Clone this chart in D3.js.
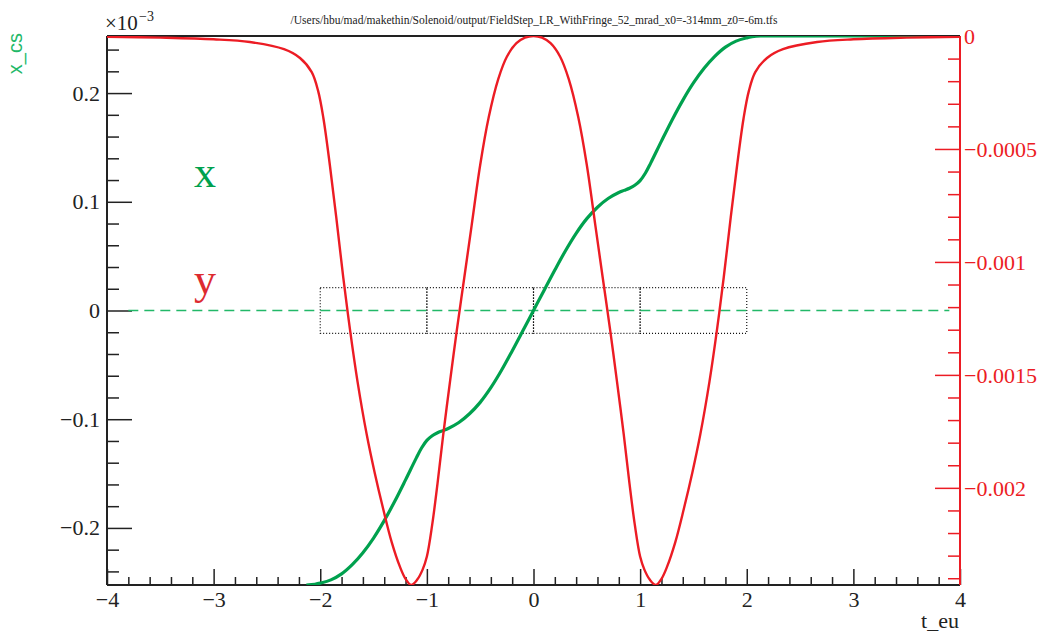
<!DOCTYPE html>
<html>
<head>
<meta charset="utf-8">
<script src="https://cdn.jsdelivr.net/npm/d3@7"></script>
<style>
  body { margin: 0; background: #fff; }
  text { font-family: "Liberation Serif", "Times New Roman", serif; }
</style>
</head>
<body>
<svg id="chart" width="1041" height="634"></svg>
<script>
// ---- data ----
// red curve (right axis): y vs t_eu
var redT = [-4.0, -3.5, -3.0, -2.66, -2.34, -2.19, -2.08, -2.02, -1.97, -1.91, -1.85, -1.784, -1.721, -1.65, -1.565, -1.49, -1.409, -1.33, -1.252, -1.20, -1.147, -1.09, -1.04, -1.0, -0.95, -0.9, -0.846, -0.78, -0.72, -0.649, -0.58, -0.5, -0.42, -0.33, -0.25, -0.16, -0.08, 0,
            0.08, 0.16, 0.25, 0.33, 0.42, 0.5, 0.58, 0.649, 0.72, 0.78, 0.846, 0.9, 0.95, 1.0, 1.04, 1.09, 1.147, 1.20, 1.252, 1.33, 1.409, 1.49, 1.565, 1.65, 1.721, 1.784, 1.85, 1.91, 1.97, 2.02, 2.08, 2.19, 2.34, 2.66, 3.0, 3.5, 4.0];
var redY = [-0.0000036, -0.0000073, -0.0000146, -0.0000267, -0.0000583, -0.0000972, -0.000160, -0.000243, -0.000365, -0.000571, -0.000802, -0.001069, -0.001300, -0.001531, -0.001762, -0.001932, -0.002095, -0.002240, -0.002350, -0.002403, -0.002430, -0.002406, -0.002362, -0.002304, -0.002163, -0.001980, -0.001762, -0.001519, -0.001305, -0.001069, -0.000838, -0.000571, -0.000360, -0.000190, -0.000092, -0.000032, -0.0000073, 0,
            -0.0000073, -0.000032, -0.000092, -0.000190, -0.000360, -0.000571, -0.000838, -0.001069, -0.001305, -0.001519, -0.001762, -0.001980, -0.002163, -0.002304, -0.002362, -0.002406, -0.002430, -0.002403, -0.002350, -0.002240, -0.002095, -0.001932, -0.001762, -0.001531, -0.001300, -0.001069, -0.000802, -0.000571, -0.000365, -0.000243, -0.000160, -0.0000972, -0.0000583, -0.0000267, -0.0000146, -0.0000073, -0.0000036];

// green curve (left axis): x_cs in units of 1e-3
var greenT = [-2.13, -2.05, -2.0, -1.9, -1.8, -1.7, -1.6, -1.5, -1.4, -1.3, -1.2, -1.1, -1.05, -1.0, -0.95, -0.9, -0.85, -0.8, -0.7, -0.6, -0.5, -0.4, -0.3, -0.2, -0.1, 0,
              0.1, 0.2, 0.3, 0.4, 0.5, 0.6, 0.7, 0.8, 0.85, 0.9, 0.95, 1.0, 1.05, 1.1, 1.2, 1.3, 1.4, 1.5, 1.6, 1.7, 1.8, 1.9, 2.0, 2.05, 2.13, 2.6, 4.0];
var greenX = [-0.2525, -0.2518, -0.2508, -0.2478, -0.2423, -0.2338, -0.2228, -0.2093, -0.1933, -0.1753, -0.1558, -0.1358, -0.1265, -0.1195, -0.1152, -0.1125, -0.1105, -0.1085, -0.1030, -0.0950, -0.0845, -0.0710, -0.0550, -0.0372, -0.0187, 0,
              0.0187, 0.0372, 0.0550, 0.0710, 0.0845, 0.0950, 0.1030, 0.1085, 0.1105, 0.1125, 0.1152, 0.1195, 0.1265, 0.1358, 0.1558, 0.1753, 0.1933, 0.2093, 0.2228, 0.2338, 0.2423, 0.2478, 0.2508, 0.2518, 0.2525, 0.2525, 0.2525];

// dotted boxes (t ranges) and their half height (1e-3 units)
var boxStart = [-2, -1, 0, 1];
var boxEnd = [-1, 0, 1, 2];
var boxHalf = 0.021;

// dashed zero line extent
var zeroLineT = [-3.8, 3.9];

// axis ranges and ticks
var tRange = [-4, 4];
var leftRange = [-0.2525, 0.2525];
var rightRange = [-0.00243, 0];
var bottomMajor = [-4, -3, -2, -1, 0, 1, 2, 3, 4];
var leftMajor = [-0.2, -0.1, 0, 0.1, 0.2];
var rightMajor = [0, -0.0005, -0.001, -0.0015, -0.002];

var titleText = "/Users/hbu/mad/makethin/Solenoid/output/FieldStep_LR_WithFringe_52_mrad_x0=-314mm_z0=-6m.tfs";

// colours
var red = "#ec1c24";
var green = "#00a14e";
var lightgreen = "#22b868";

var svg = d3.select("#chart");
var x0 = 107, x1 = 960, yTop = 36, yBot = 585;

var xs = d3.scaleLinear().domain(tRange).range([x0, x1]);
var yl = d3.scaleLinear().domain(leftRange).range([yBot, yTop]);
var yr = d3.scaleLinear().domain(rightRange).range([yBot, yTop]);

// minor tick positions
var bottomMinor = d3.range(-40, 41, 2).map(function(d) { return d / 10; }).filter(function(d) { return Math.abs(d - Math.round(d)) > 1e-6; });
var leftMinor = d3.range(-12, 13).map(function(d) { return d * 0.02; }).filter(function(d) { return Math.abs(d / 0.1 - Math.round(d / 0.1)) > 1e-6; });
var rightMinor = d3.range(0, 25).map(function(d) { return -d * 0.0001; }).filter(function(d) { return Math.abs(d / 0.0005 - Math.round(d / 0.0005)) > 1e-6; });

function styleAxis(g, col) {
  g.select(".domain").remove();
  g.selectAll(".tick line").attr("stroke", col).attr("stroke-width", 1.5);
  g.selectAll(".tick text").attr("fill", col).attr("font-size", 22)
    .attr("font-family", "Liberation Serif");
}

// bottom axis
var gb = svg.append("g").attr("transform", "translate(0," + yBot + ")");
gb.call(d3.axisBottom(xs).tickValues(bottomMinor).tickSize(-8).tickFormat(""));
styleAxis(gb, "#222");
var gb2 = svg.append("g").attr("transform", "translate(0," + yBot + ")");
gb2.call(d3.axisBottom(xs).tickValues(bottomMajor).tickSize(-16).tickPadding(6).tickFormat(d3.format("d")));
styleAxis(gb2, "#222");

// left axis
var gl = svg.append("g").attr("transform", "translate(" + x0 + ",0)");
gl.call(d3.axisLeft(yl).tickValues(leftMinor).tickSize(-12).tickFormat(""));
styleAxis(gl, "#222");
var gl2 = svg.append("g").attr("transform", "translate(" + x0 + ",0)");
gl2.call(d3.axisLeft(yl).tickValues(leftMajor).tickSize(-25).tickPadding(7).tickFormat(d3.format("~g")));
styleAxis(gl2, "#222");

// right axis (red)
var gr = svg.append("g").attr("transform", "translate(" + x1 + ",0)");
gr.call(d3.axisRight(yr).tickValues(rightMinor).tickSize(-12).tickFormat(""));
styleAxis(gr, red);
var gr2 = svg.append("g").attr("transform", "translate(" + x1 + ",0)");
gr2.call(d3.axisRight(yr).tickValues(rightMajor).tickSize(-25).tickPadding(4).tickFormat(d3.format("~g")));
styleAxis(gr2, red);
gr2.selectAll(".tick text").attr("dy", "0.36em");

// frame lines
svg.append("line").attr("x1", x0).attr("x2", x1).attr("y1", yTop).attr("y2", yTop).attr("stroke", "#222").attr("stroke-width", 2);
svg.append("line").attr("x1", x0).attr("x2", x1).attr("y1", yBot).attr("y2", yBot).attr("stroke", "#222").attr("stroke-width", 2);
svg.append("line").attr("x1", x0).attr("x2", x0).attr("y1", yTop).attr("y2", yBot).attr("stroke", "#222").attr("stroke-width", 2);
svg.append("line").attr("x1", x1).attr("x2", x1).attr("y1", yTop).attr("y2", yBot).attr("stroke", red).attr("stroke-width", 2);

// dotted boxes
svg.append("g").selectAll("rect").data(boxStart).enter().append("rect")
  .attr("x", function(d) { return xs(d); })
  .attr("width", function(d, i) { return xs(boxEnd[i]) - xs(d); })
  .attr("y", yl(boxHalf))
  .attr("height", yl(-boxHalf) - yl(boxHalf))
  .attr("fill", "none").attr("stroke", "#111").attr("stroke-width", 1.2)
  .attr("stroke-dasharray", "1,2");

// dashed zero line
svg.append("line")
  .attr("x1", xs(zeroLineT[0])).attr("x2", xs(zeroLineT[1]))
  .attr("y1", yl(0)).attr("y2", yl(0))
  .attr("stroke", lightgreen).attr("stroke-width", 1.4)
  .attr("stroke-dasharray", "10,6");

// clip to the frame
svg.append("clipPath").attr("id", "frameclip").append("rect")
  .attr("x", x0).attr("y", yTop).attr("width", x1 - x0).attr("height", yBot - yTop);

var redLine = d3.line().curve(d3.curveCatmullRom.alpha(0.5))
  .x(function(d, i) { return xs(redT[i]); })
  .y(function(d) { return yr(d); });
var greenLine = d3.line().curve(d3.curveCatmullRom.alpha(0.5))
  .x(function(d, i) { return xs(greenT[i]); })
  .y(function(d) { return yl(d); });

svg.append("path").datum(greenX).attr("d", greenLine)
  .attr("clip-path", "url(#frameclip)")
  .attr("fill", "none").attr("stroke", green).attr("stroke-width", 3.2);
svg.append("path").datum(redY).attr("d", redLine)
  .attr("clip-path", "url(#frameclip)")
  .attr("fill", "none").attr("stroke", red).attr("stroke-width", 2.4);

// texts
svg.append("text").attr("x", 534).attr("y", 24).attr("text-anchor", "middle")
  .attr("font-size", 11.5).attr("fill", "#222").text(titleText);

svg.append("text").attr("x", 105).attr("y", 30).attr("font-size", 21).attr("fill", "#222").text("\u00d710");
svg.append("text").attr("x", 139).attr("y", 21).attr("font-size", 14).attr("fill", "#222").text("\u22123");

svg.append("text").attr("transform", "translate(22,33) rotate(-90)")
  .attr("text-anchor", "end").attr("font-size", 20)
  .style("font-family", "Liberation Sans, Arial, sans-serif")
  .attr("fill", lightgreen).text("x_cs");

svg.append("text").attr("x", 959).attr("y", 628).attr("text-anchor", "end")
  .attr("font-size", 22).attr("fill", "#222").text("t_eu");

svg.append("text").attr("x", 194).attr("y", 187).attr("font-size", 44).attr("fill", green).text("x");
svg.append("text").attr("x", 194).attr("y", 294).attr("font-size", 44).attr("fill", "#dd2a2f").text("y");
</script>
</body>
</html>
